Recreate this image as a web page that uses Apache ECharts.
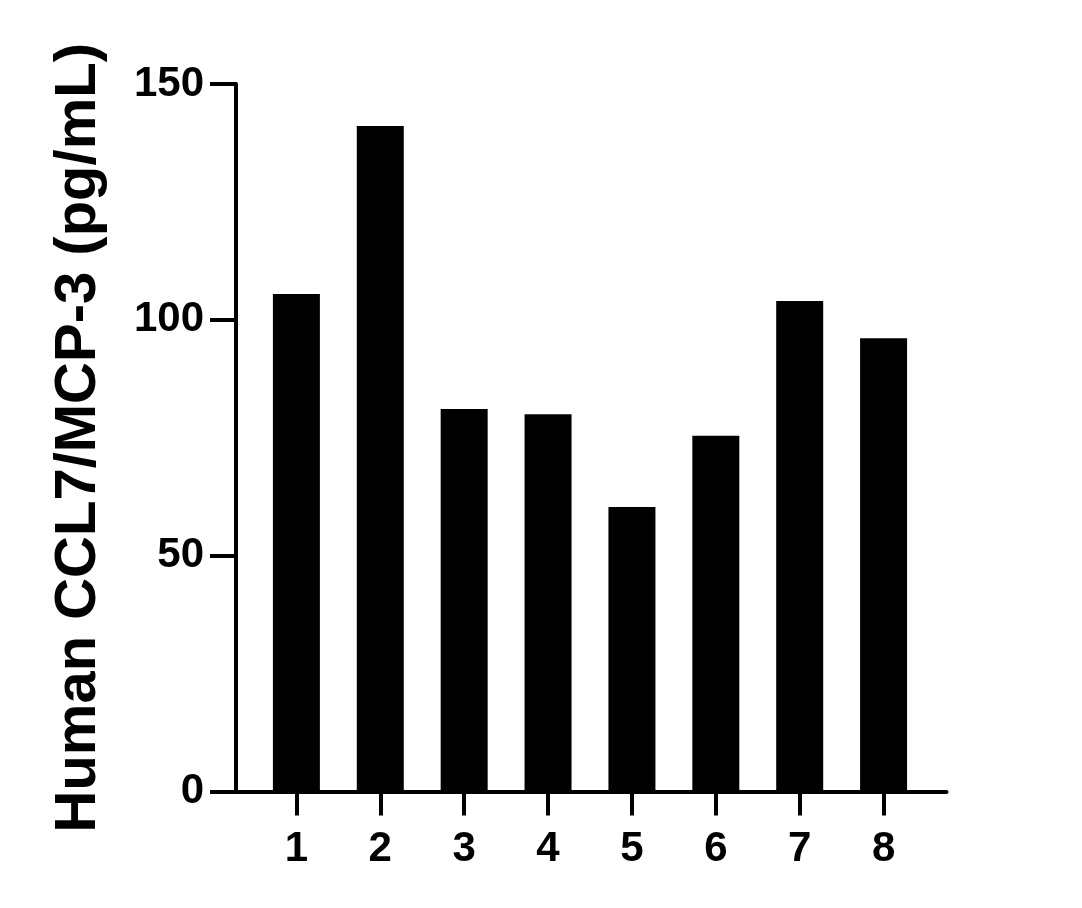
<!DOCTYPE html>
<html>
<head>
<meta charset="utf-8">
<script src="https://cdn.jsdelivr.net/npm/echarts@6/dist/echarts.min.js"></script>
<style>
html, body { margin: 0; padding: 0; background: #fff; }
#main { width: 1082px; height: 908px; }
</style>
</head>
<body>
<div id="main"></div>
<script>
// data
var categories = ['1', '2', '3', '4', '5', '6', '7', '8'];
var values = [105.5, 141.1, 81.1, 80.0, 60.3, 75.4, 104.0, 96.1];
var yTicks = [0, 50, 100, 150];
var yTitle = 'Human CCL7/MCP-3 (pg/mL)';

var myChart = echarts.init(document.getElementById('main'));

// bars sit at x = 1..8 on a value axis (axis line runs past the first/last bar)
var tickPos = categories.map(function (c, i) { return i + 1; });
var barData = values.map(function (v, i) { return [i + 1, v]; });

var font = 'Liberation Sans, Arial, sans-serif';

option = {
    backgroundColor: '#ffffff',
    animation: false,
    grid: {
        left: 236,
        right: 135.5,
        top: 84,
        bottom: 116.5
    },
    xAxis: {
        type: 'value',
        min: 0.28,
        max: 8.75,
        splitLine: { show: false },
        axisLine: { show: true, lineStyle: { color: '#000', width: 4 } },
        axisTick: {
            show: true,
            length: 24,
            customValues: tickPos,
            lineStyle: { color: '#000', width: 4 }
        },
        axisLabel: {
            customValues: tickPos,
            margin: 37,
            color: '#000',
            fontFamily: font,
            fontWeight: 'bold',
            fontSize: 42,
            formatter: function (v) { return categories[Math.round(v) - 1]; }
        }
    },
    yAxis: {
        type: 'value',
        min: yTicks[0],
        max: yTicks[yTicks.length - 1],
        interval: 50,
        splitLine: { show: false },
        axisLine: { show: true, lineStyle: { color: '#000', width: 4 } },
        axisTick: { show: true, length: 26, lineStyle: { color: '#000', width: 4 } },
        axisLabel: {
            margin: 32,
            color: '#000',
            fontFamily: font,
            fontWeight: 'bold',
            fontSize: 42
        },
        name: yTitle,
        nameLocation: 'middle',
        nameGap: 128,
        nameTextStyle: {
            color: '#000',
            fontFamily: font,
            fontWeight: 'bold',
            fontSize: 58
        }
    },
    series: [
        {
            type: 'bar',
            data: barData,
            barWidth: 47,
            itemStyle: { color: '#000' }
        }
    ]
};
myChart.setOption(option, true);
</script>
</body>
</html>
